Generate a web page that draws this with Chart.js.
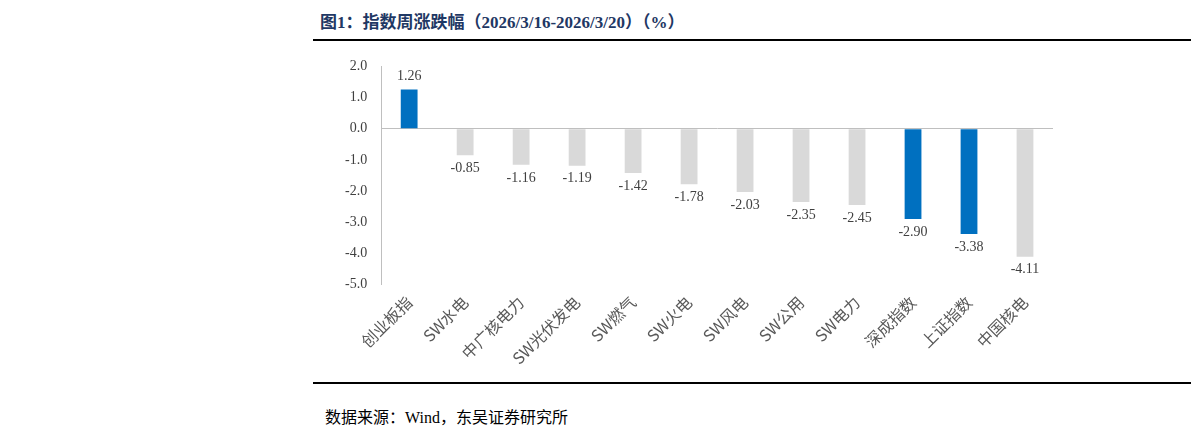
<!DOCTYPE html>
<html>
<head>
<meta charset="utf-8">
<script src="https://cdn.jsdelivr.net/npm/chart.js@4/dist/chart.umd.min.js"></script>
<style>
  body { margin: 0; width: 1191px; height: 439px; background: #fff; position: relative; overflow: hidden; }
  #title { position: absolute; left: 320px; top: 8px; font: bold 17px "Liberation Serif", "Noto Sans CJK SC"; color: #1f3864; }
  .rule { position: absolute; left: 313px; width: 878px; height: 2px; background: #000; }
  #source { position: absolute; left: 325px; top: 404px; font: 16px "Liberation Serif", "Noto Sans CJK SC"; color: #000; }
  #wrap { position: absolute; left: 313px; top: 44px; width: 740px; height: 336px; }
</style>
</head>
<body>
<div id="title">图1：指数周涨跌幅（2026/3/16-2026/3/20）（%）</div>
<div class="rule" style="top:39px"></div>
<div id="wrap"><canvas id="c"></canvas></div>
<div class="rule" style="top:382px"></div>
<div id="source">数据来源：Wind，东吴证券研究所</div>
<script>
const categories = ['创业板指', 'SW水电', '中广核电力', 'SW光伏发电', 'SW燃气', 'SW火电', 'SW风电', 'SW公用', 'SW电力', '深成指数', '上证指数', '中国核电'];
const values = [1.26, -0.85, -1.16, -1.19, -1.42, -1.78, -2.03, -2.35, -2.45, -2.90, -3.38, -4.11];
const highlighted = ['创业板指', '深成指数', '上证指数'];
const yTicks = [2, 1, 0, -1, -2, -3, -4, -5];

const labelPlugin = {
    id: 'valueLabels',
    afterDatasetsDraw(chart) {
        const ctx = chart.ctx;
        const meta = chart.getDatasetMeta(0);
        ctx.save();
        ctx.font = '14px "Liberation Serif"';
        ctx.fillStyle = '#404040';
        ctx.textAlign = 'center';
        meta.data.forEach((bar, i) => {
            const v = values[i];
            if (v >= 0) {
                ctx.textBaseline = 'bottom';
                ctx.fillText(v.toFixed(2), bar.x, bar.y - 6);
            } else {
                ctx.textBaseline = 'top';
                ctx.fillText(v.toFixed(2), bar.x, bar.y + 6);
            }
        });
        ctx.restore();
    }
};

new Chart(document.getElementById('c'), {
    type: 'bar',
    data: {
        labels: categories,
        datasets: [{
            data: values,
            backgroundColor: categories.map(c => highlighted.includes(c) ? '#0070c0' : '#d9d9d9'),
            barPercentage: 0.3,
            categoryPercentage: 1
        }]
    },
    options: {
        responsive: true,
        maintainAspectRatio: false,
        animation: false,
        layout: { padding: { top: 2, right: 0, left: 18, bottom: 4 } },
        plugins: { legend: { display: false }, tooltip: { enabled: false } },
        scales: {
            x: {
                grid: { display: false, drawTicks: false },
                border: { display: false },
                ticks: {
                    color: '#595959',
                    font: { family: '"Noto Sans CJK SC"', size: 16 },
                    maxRotation: 45, minRotation: 45,
                    padding: 8
                }
            },
            y: {
                min: -5, max: 2,
                afterBuildTicks: axis => { axis.ticks = yTicks.map(v => ({ value: v })); },
                grid: {
                    drawTicks: false,
                    color: ctx => ctx.tick && ctx.tick.value === 0 ? '#bfbfbf' : 'rgba(0,0,0,0)'
                },
                border: { display: true, color: '#bfbfbf' },
                ticks: {
                    color: '#404040',
                    font: { family: '"Liberation Serif"', size: 14 },
                    padding: 14,
                    callback: v => v.toFixed(1)
                }
            }
        }
    },
    plugins: [labelPlugin]
});
</script>
</body>
</html>
